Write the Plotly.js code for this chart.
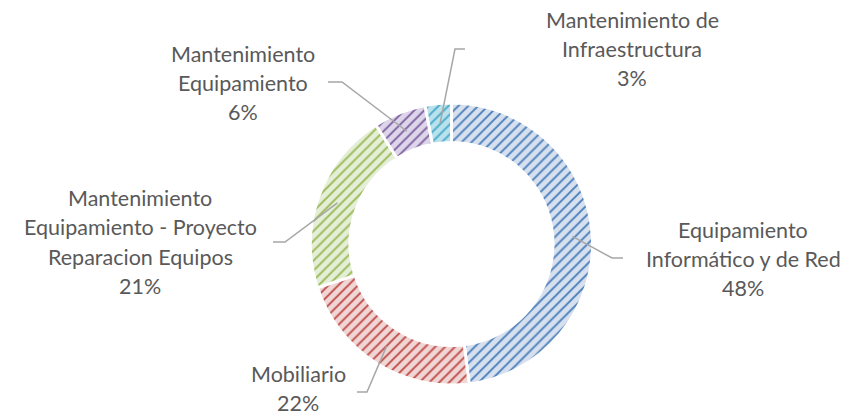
<!DOCTYPE html>
<html>
<head>
<meta charset="utf-8">
<script src="https://cdn.plot.ly/plotly-3.0.1.min.js"></script>
<style>html,body{margin:0;padding:0;background:#fff;}#chart{width:867px;height:417px;}</style>
</head>
<body>
<div id="chart"></div>
<script>
// ---- data ----
const categories = [
  "Equipamiento<br>Informático y de Red",
  "Mobiliario",
  "Mantenimiento<br>Equipamiento - Proyecto<br>Reparacion Equipos",
  "Mantenimiento<br>Equipamiento",
  "Mantenimiento de<br>Infraestructura"
];
const values = [48, 22, 21, 6, 3];
const fgColors = ["#4a7ebb", "#be4b48", "#98b954", "#7d60a0", "#46aac5"];
const bgColors = ["#d6e0ee", "#f0d6d5", "#e5eed6", "#ddd5e9", "#b9e2ee"];

// ---- layout config (label placement, pixels) ----
const W = 867, H = 417;
const cx = 451.5, cy = 244, R = 141, hole = 0.72;
// label centre, leader elbow and leader end for each slice
const labelPos = [
  {x: 743, y: 259, elbow: [612, 258], end: [623, 258]},
  {x: 298, y: 388, elbow: [367, 392], end: [357, 392]},
  {x: 140, y: 242, elbow: [285, 242], end: [273, 242]},
  {x: 243, y: 83,  elbow: [342, 82],  end: [328, 82]},
  {x: 632, y: 49,  elbow: [455, 49],  end: [465, 49]}
];
const lineGap = 29;

const total = values.reduce((a, b) => a + b, 0);
const px = x => x / W, py = y => 1 - y / H;

const annotations = [];
const shapes = [];
let cum = 0;
values.forEach((v, i) => {
  const pct = Math.round(v / total * 100) + "%";
  const lines = categories[i].split("<br>").concat([pct]);
  const n = lines.length;
  lines.forEach((t, k) => {
    annotations.push({
      x: px(labelPos[i].x), y: py(labelPos[i].y), xref: "paper", yref: "paper",
      text: t, showarrow: false, xanchor: "center", yanchor: "middle",
      borderpad: 0,
      yshift: -(k - (n - 1) / 2) * lineGap,
      font: {family: "Lato, 'Open Sans', sans-serif", size: 21.5, color: "#595959"}
    });
  });
  // leader line from slice mid-angle
  const mid = (cum + v / 2) / total * 2 * Math.PI;
  cum += v;
  const r = R * (1 + hole) / 2;
  const sx = cx + r * Math.sin(mid), sy = cy - r * Math.cos(mid);
  const e = labelPos[i].elbow, en = labelPos[i].end;
  shapes.push({
    type: "path", xref: "paper", yref: "paper",
    path: `M ${px(sx)} ${py(sy)} L ${px(e[0])} ${py(e[1])} L ${px(en[0])} ${py(en[1])}`,
    line: {color: "#a6a6a6", width: 1.5}
  });
});

const trace = {
  type: "pie",
  labels: categories,
  values: values,
  sort: false,
  direction: "clockwise",
  rotation: 0,
  hole: hole,
  textinfo: "none",
  hoverinfo: "label+percent",
  showlegend: false,
  domain: {x: [px(cx - R), px(cx + R)], y: [py(cy + R), py(cy - R)]},
  marker: {
    colors: bgColors,
    line: {color: "#ffffff", width: 3},
    pattern: {
      shape: "/",
      fgcolor: fgColors,
      bgcolor: bgColors,
      size: 7,
      solidity: 0.27,
      fillmode: "replace"
    }
  }
};

const layout = {
  width: W, height: H,
  margin: {l: 0, r: 0, t: 0, b: 0},
  paper_bgcolor: "#ffffff",
  showlegend: false,
  annotations: annotations,
  shapes: shapes
};

Plotly.newPlot("chart", [trace], layout, {displayModeBar: false, staticPlot: true});
</script>
</body>
</html>
